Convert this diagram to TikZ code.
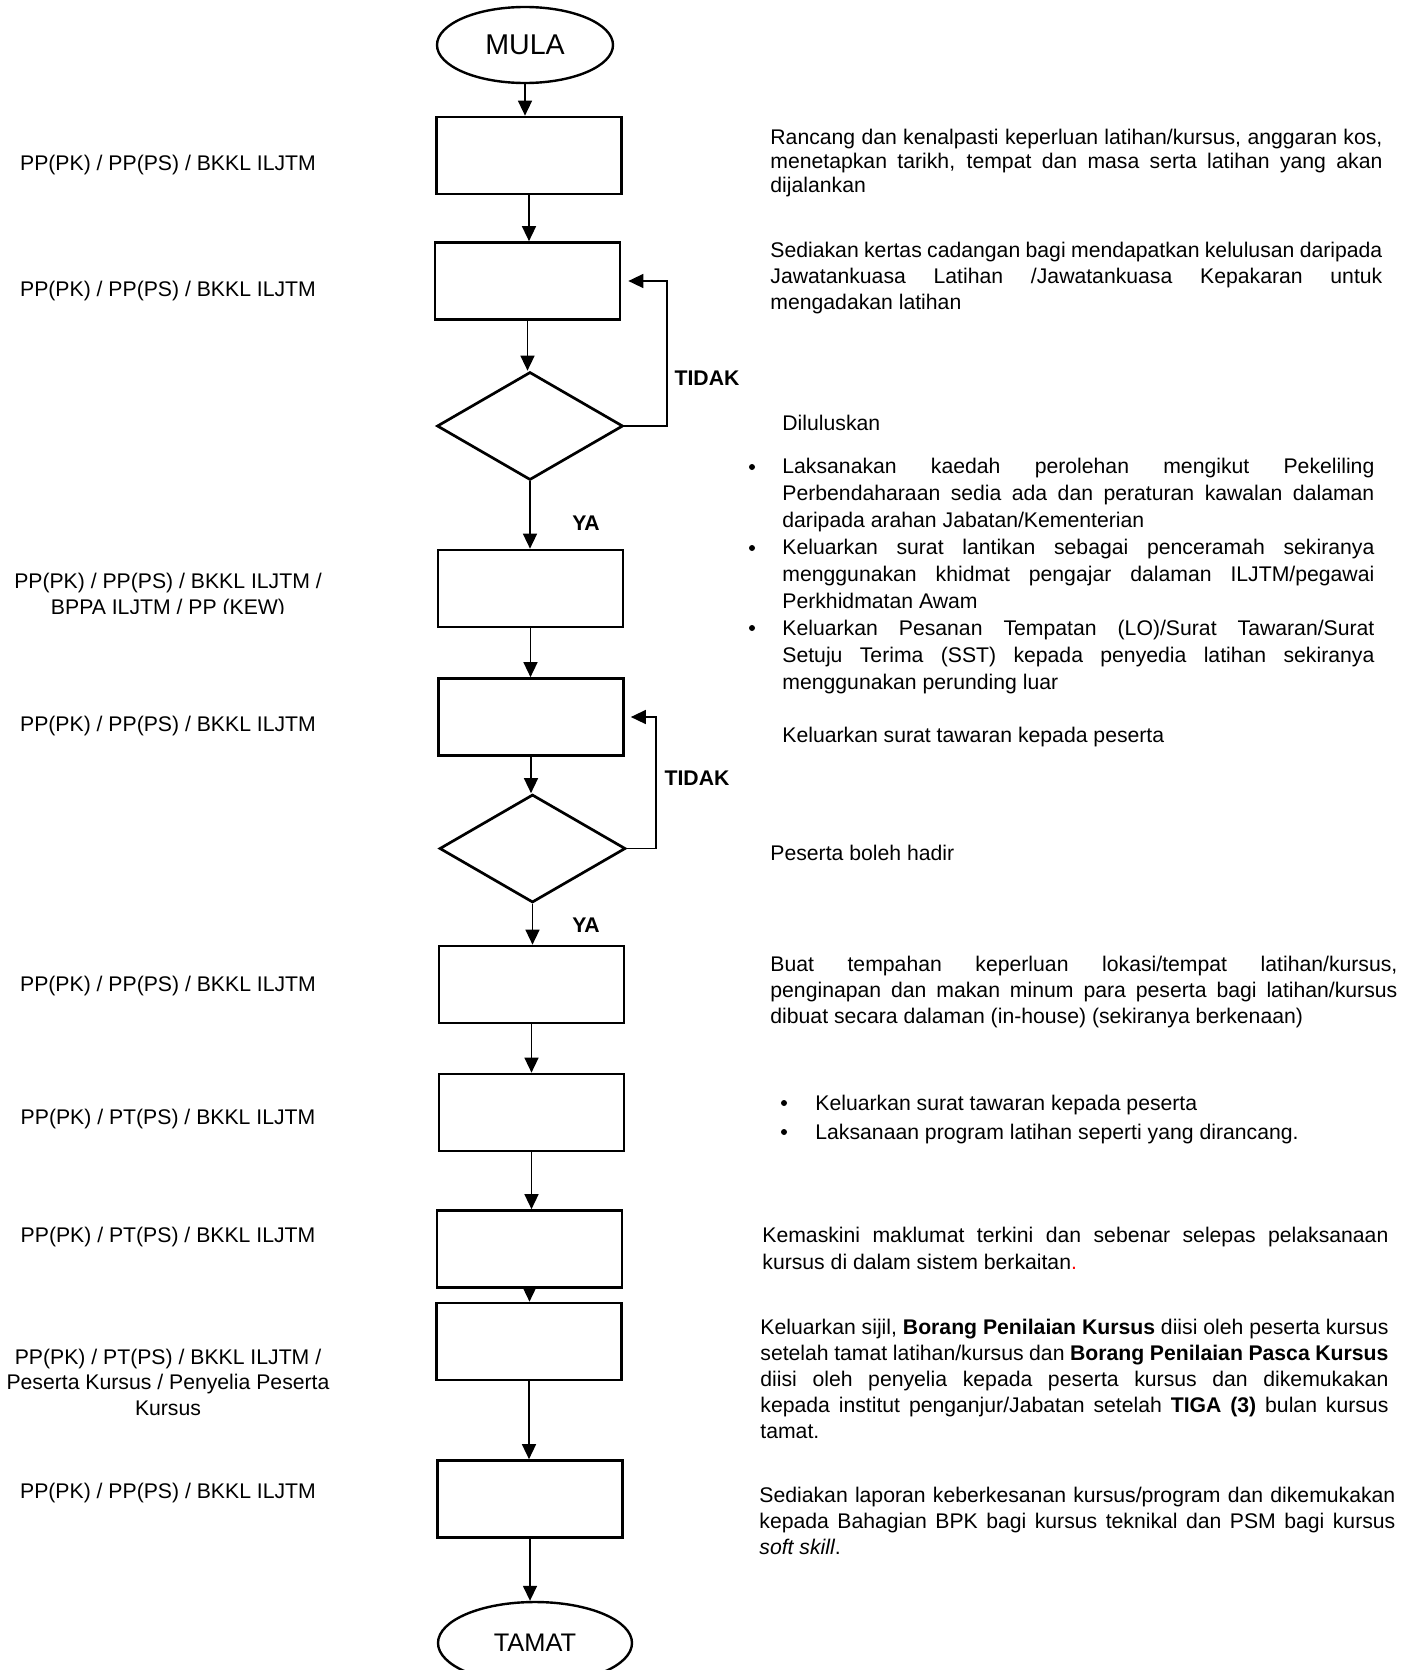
\documentclass[tikz,border=0pt]{standalone}
\usepackage{fontspec}
\setmainfont{Liberation Sans}
\usetikzlibrary{shapes.geometric,arrows.meta}
\newcommand\jl[2]{\makebox[#1][s]{#2}}
\begin{document}
\begin{tikzpicture}[x=0.5pt,y=-0.5pt,
  every node/.style={font=\fontsize{10.6}{13}\selectfont, inner sep=0pt},
  box/.style={draw, line width=1.35pt, minimum width=92.5pt, minimum height=38.5pt},
  dec/.style={draw, diamond, line width=1.35pt, aspect=1.72, minimum width=93pt, minimum height=54pt},
  term/.style={draw, ellipse, line width=1.2pt, inner sep=0pt},
  arr/.style={line width=0.75pt, -{Triangle[length=7.5pt,width=7pt]}},
  lbl/.style={align=center, anchor=base},
  yn/.style={font=\fontsize{10.6}{13}\selectfont\bfseries, anchor=center},
  desc/.style={align=left, anchor=base west},
  dot/.style={circle, fill, minimum size=3pt},
]
\useasboundingbox (0,0) rectangle (1412,1670);
\fill[white] (0,0) rectangle (1412,1670);

% flow nodes
\node[term, minimum width=88pt, minimum height=38pt, font=\fontsize{14.3}{16}\selectfont] (start) at (525,45) {MULA};
\node[box] (b1) at (529,155.5) {};
\node[box] (b2) at (527.5,281) {};
\node[dec] (d1) at (530,426) {};
\node[box] (b3) at (530.5,588.5) {};
\node[box] (b4) at (531,717) {};
\node[dec] (d2) at (532.5,848.5) {};
\node[box] (b5) at (531.5,984.5) {};
\node[box] (b6) at (531.5,1112.5) {};
\node[box] (b7) at (529.5,1249) {};
\node[box] (b8) at (529,1341.5) {};
\node[box] (b9) at (530,1499) {};
\begin{scope}
\clip (0,0) rectangle (1412,1670);
\node[term, minimum width=97pt, minimum height=41pt, font=\fontsize{12.7}{15}\selectfont] (end) at (535,1643) {TAMAT};
\end{scope}

% connectors
\draw[arr] (start.south) -- (start.south |- b1.north);
\draw[arr] (b1.south) -- (b1.south |- b2.north);
\draw[arr] (b2.south) -- (b2.south |- d1.north);
\draw[arr] (d1.south) -- (d1.south |- b3.north);
\draw[arr] (b3.south) -- (b3.south |- b4.north);
\draw[arr] (b4.south) -- (b4.south |- d2.north);
\draw[arr] (d2.south) -- (d2.south |- b5.north);
\draw[arr] (b5.south) -- (b5.south |- b6.north);
\draw[arr] (b6.south) -- (b6.south |- b7.north);
\draw[arr] (b7.south) -- (b7.south |- b8.north);
\draw[arr] (b8.south) -- (b8.south |- b9.north);
\draw[arr] (b9.south) -- (b9.south |- end.north);
\coordinate (r1) at (667,426);
\coordinate (r2) at (656,848.5);
\draw[arr] (d1.east) -- (r1) |- ([xshift=3.5pt]b2.east);
\draw[arr] (d2.east) -- (r2) |- ([xshift=3pt]b4.east);

% decision labels
\node[yn] (t1) at (707,378) {TIDAK};
\node[yn] (y1) at (586,523) {YA};
\node[yn] (t2) at (697,778) {TIDAK};
\node[yn] (y2) at (586,925) {YA};

% left role labels (base = last line)
\node[lbl] (L1) at (168,170) {PP(PK) / PP(PS) / BKKL ILJTM};
\node[lbl] (L2) at (168,296) {PP(PK) / PP(PS) / BKKL ILJTM};
\begin{scope}
\clip (0,540) rectangle (400,613);
\node[lbl] (L3) at (168,614) {PP(PK) / PP(PS) / BKKL ILJTM /\\BPPA ILJTM / PP (KEW)};
\end{scope}
\node[lbl] (L4) at (168,731) {PP(PK) / PP(PS) / BKKL ILJTM};
\node[lbl] (L5) at (168,991) {PP(PK) / PP(PS) / BKKL ILJTM};
\node[lbl] (L6) at (168,1124) {PP(PK) / PT(PS) / BKKL ILJTM};
\node[lbl] (L7) at (168,1242) {PP(PK) / PT(PS) / BKKL ILJTM};
\node[lbl, font=\fontsize{10.6}{12.7}\selectfont] (L8) at (168,1415) {PP(PK) / PT(PS) / BKKL ILJTM /\\Peserta Kursus / Penyelia Peserta\\Kursus};
\node[lbl] (L9) at (168,1498) {PP(PK) / PP(PS) / BKKL ILJTM};

% right descriptions (base = last line)
\node[desc, font=\fontsize{10.6}{12}\selectfont] (R1) at (770,192) {\jl{306pt}{Rancang dan kenalpasti keperluan latihan/kursus, anggaran kos,}\\\jl{306pt}{menetapkan tarikh, tempat dan masa serta latihan yang akan}\\dijalankan};
\node[desc, font=\fontsize{10.6}{13}\selectfont] (R2) at (770,309) {\jl{306pt}{Sediakan kertas cadangan bagi mendapatkan kelulusan daripada}\\\jl{306pt}{Jawatankuasa Latihan /Jawatankuasa Kepakaran untuk}\\mengadakan latihan};
\node[desc] (R3) at (782,430) {Diluluskan};
\node[desc, font=\fontsize{10.6}{13.5}\selectfont] (R4) at (782,689) {\jl{296pt}{Laksanakan kaedah perolehan mengikut Pekeliling}\\\jl{296pt}{Perbendaharaan sedia ada dan peraturan kawalan dalaman}\\daripada arahan Jabatan/Kementerian\\\jl{296pt}{Keluarkan surat lantikan sebagai penceramah sekiranya}\\\jl{296pt}{menggunakan khidmat pengajar dalaman ILJTM/pegawai}\\Perkhidmatan Awam\\\jl{296pt}{Keluarkan Pesanan Tempatan (LO)/Surat Tawaran/Surat}\\\jl{296pt}{Setuju Terima (SST) kepada penyedia latihan sekiranya}\\menggunakan perunding luar};
\node[dot] (bu1) at (752,467) {};
\node[dot] (bu2) at (752,548) {};
\node[dot] (bu3) at (752,628) {};
\node[desc] (R5) at (782,742) {Keluarkan surat tawaran kepada peserta};
\node[desc] (R6) at (770,860) {Peserta boleh hadir};
\node[desc, font=\fontsize{10.6}{13}\selectfont] (R7) at (770,1023) {\jl{313.5pt}{Buat tempahan keperluan lokasi/tempat latihan/kursus,}\\\jl{313.5pt}{penginapan dan makan minum para peserta bagi latihan/kursus}\\dibuat secara dalaman (in-house) (sekiranya berkenaan)};
\node[desc, font=\fontsize{10.6}{14.5}\selectfont] (R8) at (815,1139) {Keluarkan surat tawaran kepada peserta\\Laksanaan program latihan seperti yang dirancang.};
\node[dot] (bu4) at (784,1103) {};
\node[dot] (bu5) at (784,1132) {};
\node[desc, font=\fontsize{10.6}{13.5}\selectfont] (R9) at (762,1269) {\jl{313pt}{Kemaskini maklumat terkini dan sebenar selepas pelaksanaan}\\kursus di dalam sistem berkaitan\textcolor{red}{.}};
\node[desc, font=\fontsize{10.6}{13}\selectfont] (R10) at (760,1438) {\jl{314pt}{Keluarkan sijil, \textbf{Borang Penilaian Kursus} diisi oleh peserta kursus}\\\jl{314pt}{setelah tamat latihan/kursus dan \textbf{Borang Penilaian Pasca Kursus}}\\\jl{314pt}{diisi oleh penyelia kepada peserta kursus dan dikemukakan}\\\jl{314pt}{kepada institut penganjur/Jabatan setelah \textbf{TIGA (3)} bulan kursus}\\tamat.};
\node[desc, font=\fontsize{10.6}{13}\selectfont] (R11) at (759,1554) {\jl{318pt}{Sediakan laporan keberkesanan kursus/program dan dikemukakan}\\\jl{318pt}{kepada Bahagian BPK bagi kursus teknikal dan PSM bagi kursus}\\\textit{soft skill}.};
\end{tikzpicture}
\end{document}
